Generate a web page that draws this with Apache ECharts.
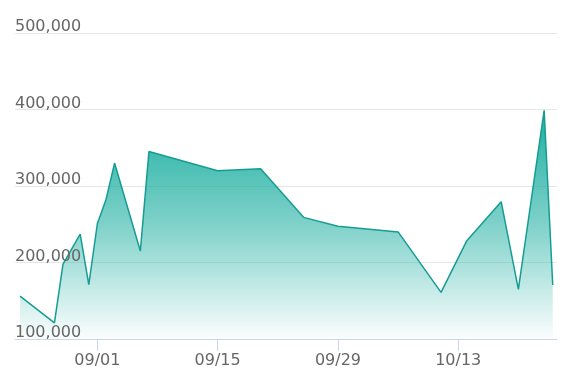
<!DOCTYPE html>
<html>
<head>
<meta charset="utf-8">
<script src="https://cdn.jsdelivr.net/npm/echarts@6/dist/echarts.min.js"></script>
<style>html,body{margin:0;padding:0;background:#fff;}#c{width:573px;height:391px;}</style>
</head>
<body>
<div id="c"></div>
<script>
const dates = ['2023-08-23','2023-08-27','2023-08-28','2023-08-30','2023-08-31','2023-09-01','2023-09-02','2023-09-03','2023-09-06','2023-09-07','2023-09-15','2023-09-20','2023-09-25','2023-09-29','2023-10-06','2023-10-11','2023-10-14','2023-10-18','2023-10-20','2023-10-23','2023-10-24'];
const values = [156000,121000,198000,237000,171000,251000,282000,330000,215000,345000,320000,322500,259000,247500,240000,161000,228500,279500,165000,399000,170500];
const tickDates = ['2023-09-01','2023-09-15','2023-09-29','2023-10-13'];
const tickLabels = ['09/01','09/15','09/29','10/13'];
const yTicks = [100000,200000,300000,400000,500000];

const toTs = s => { const p = s.split('-').map(Number); return Date.UTC(p[0], p[1] - 1, p[2]); };
const seriesData = dates.map((d, i) => [toTs(d), values[i]]);
const tickTs = tickDates.map(toTs);
const labelMap = {};
tickTs.forEach((t, i) => { labelMap[t] = tickLabels[i]; });
const font = 'DejaVu Sans';
const xMin = toTs(dates[0]), xMax = toTs(dates[dates.length - 1]);
const span = xMax - xMin;
const yBase = {
  type: 'value',
  min: yTicks[0], max: yTicks[yTicks.length - 1], interval: 100000,
  position: 'left',
  axisLine: {show: false},
  axisTick: {show: false}
};

const chart = echarts.init(document.getElementById('c'), null, {renderer: 'canvas'});
chart.setOption({
  animation: false,
  grid: {left: 15, right: 16, top: 33, bottom: 52},
  xAxis: {
    type: 'value',
    min: xMin - span * 0.0095,
    max: xMax + span * 0.008,
    z: 10,
    axisLine: {lineStyle: {color: '#ccd6eb', width: 1}},
    axisTick: {show: true, length: 12, lineStyle: {color: '#ccd6eb'}, customValues: tickTs},
    axisLabel: {
      customValues: tickTs,
      color: '#666666', fontSize: 16, fontFamily: font, margin: 14,
      formatter: v => labelMap[v] || ''
    },
    splitLine: {show: false}
  },
  yAxis: [
    Object.assign({}, yBase, {
      z: 0,
      axisLabel: {show: false},
      splitLine: {lineStyle: {color: '#e6e6e6', width: 1}}
    }),
    Object.assign({}, yBase, {
      z: 10,
      splitLine: {show: false},
      axisLabel: {
        inside: true, verticalAlign: 'bottom', align: 'left',
        color: '#666666', fontSize: 16, fontFamily: font, margin: 0,
        padding: [0, 0, -2, 0],
        formatter: v => v.toLocaleString('en-US')
      }
    })
  ],
  series: [{
    type: 'line',
    yAxisIndex: 0,
    data: seriesData,
    symbol: 'none',
    lineStyle: {color: '#159d93', width: 1.5},
    areaStyle: {
      opacity: 1,
      color: new echarts.graphic.LinearGradient(0, 0, 0, 1, [
        {offset: 0, color: 'rgba(22,172,158,0.97)'},
        {offset: 0.5, color: 'rgba(22,172,158,0.55)'},
        {offset: 1, color: 'rgba(22,172,158,0.02)'}
      ])
    },
    z: 3
  }]
});
</script>
</body>
</html>
